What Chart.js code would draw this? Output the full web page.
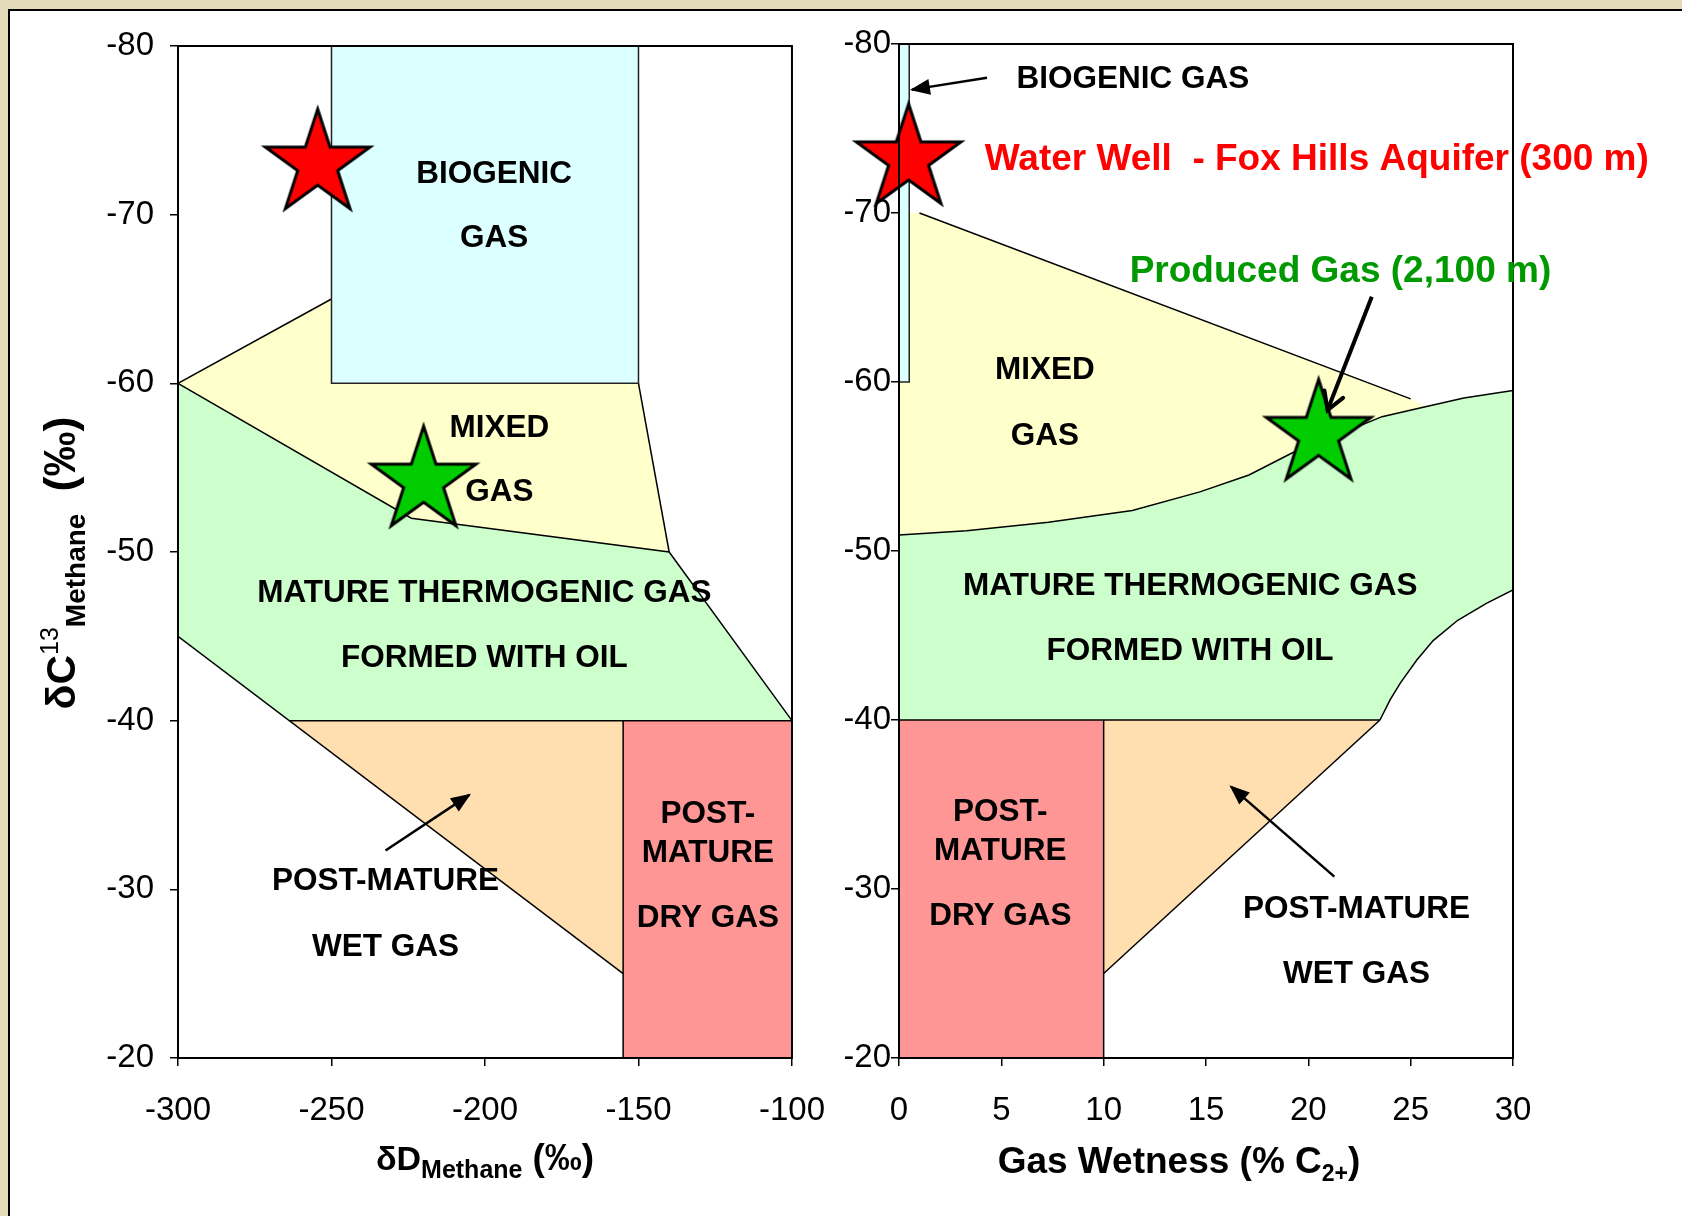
<!DOCTYPE html>
<html>
<head>
<meta charset="utf-8">
<title>Methane source diagrams</title>
<script src="https://cdn.jsdelivr.net/npm/chart.js@4.4.1/dist/chart.umd.min.js"></script>
<style>
  html, body { margin: 0; padding: 0; }
  body { width: 1682px; height: 1216px; background: #e4dbbb; position: relative; overflow: hidden; }
  #panel { position: absolute; left: 8px; top: 9px; width: 1674px; height: 1207px; background: #fff;
           border-left: 2px solid #000; border-top: 2px solid #000; box-sizing: border-box; }
  canvas { position: absolute; top: 0; }
  #left { left: 0; }
  #right { left: 845px; }
</style>
</head>
<body>
<div id="panel"></div>
<canvas id="left" width="850" height="1216"></canvas>
<canvas id="right" width="837" height="1216"></canvas>
<script>
// ---------- δD vs δ13C panel (values in per mil) ----------
const ddRange = [-300, -100];
const c13Range = [-80, -20];
const ddBiogenic = [[-250, -80], [-150, -80], [-150, -60], [-250, -60]];
const ddMixed = [[-300, -60], [-250, -65], [-250, -60], [-150, -60], [-140, -50], [-224, -52]];
const ddMature = [[-300, -60], [-224, -52], [-140, -50], [-100, -40], [-263.7, -40], [-300, -45]];
const ddWet = [[-263.7, -40], [-155, -40], [-155, -25]];
const ddDry = [[-155, -40], [-100, -40], [-100, -20], [-155, -20]];
const ddEdges = [
  [[-300, -60], [-250, -65]],
  [[-300, -60], [-224, -52], [-140, -50], [-100, -40]],
  [[-150, -60], [-140, -50]],
  [[-263.7, -40], [-100, -40]],
  [[-300, -45], [-155, -25]],
  [[-155, -40], [-155, -20]]
];
const ddWaterWell = [[-254.5, -73]];
const ddProducedGas = [[-220, -54.2]];
const ddWetArrow = [[-232.4, -32.3], [-205.1, -35.6]];

// ---------- Gas wetness vs δ13C panel ----------
const wetRange = [0, 30];
const wetBiogenic = [[0, -80], [0.5, -80], [0.5, -60], [0, -60]];
const wetMatureTop = [[0, -50.95], [3.3, -51.2], [7.3, -51.7], [11.4, -52.4], [14.7, -53.5], [17.1, -54.5],
                      [19.2, -55.8], [22.0, -57.15], [23.6, -57.95], [25.4, -58.45], [27.6, -59.05], [30, -59.5]];
const wetMatureEdge = [[30, -47.7], [28.7, -46.9], [27.3, -45.9], [26.1, -44.7], [25.3, -43.55], [24.5, -42.2],
                       [24.0, -41.2], [23.5, -40]];
const wetMature = wetMatureTop.concat(wetMatureEdge, [[0, -40]]);
const wetMixed = [[0, -70], [1, -70], [25, -59], [25.8, -58.5], [23.6, -57.95], [22.0, -57.15], [19.2, -55.8],
                  [17.1, -54.5], [14.7, -53.5], [11.4, -52.4], [7.3, -51.7], [3.3, -51.2], [0, -50.95]];
const wetWet = [[10, -40], [23.5, -40], [10, -25]];
const wetDry = [[0, -40], [10, -40], [10, -20], [0, -20]];
const wetEdges = [
  [[1, -70], [25, -59]],
  wetMatureTop,
  wetMatureEdge,
  [[0, -40], [23.5, -40]],
  [[10, -40], [10, -20]],
  [[10, -25], [23.5, -40]]
];
const wetWaterWell = [[0.47, -73.2]];
const wetProducedGas = [[20.5, -56.9]];
const wetWetArrow = [[21.27, -30.73], [16.22, -36.06]];
const wetBiogenicArrow = [[4.3, -78.0], [0.63, -77.3]];
const wetProducedArrow = [[23.1, -65.05], [20.94, -58.34]];

// ---------- text placed in data units ----------
const ddLabels = [
  { t: 'BIOGENIC', x: -197, y: -72.5 }, { t: 'GAS', x: -197, y: -68.7 },
  { t: 'MIXED', x: -195.3, y: -57.45 }, { t: 'GAS', x: -195.3, y: -53.65 },
  { t: 'MATURE THERMOGENIC GAS', x: -200.2, y: -47.66 }, { t: 'FORMED WITH OIL', x: -200.2, y: -43.83 },
  { t: 'POST-MATURE', x: -232.4, y: -30.6 }, { t: 'WET GAS', x: -232.4, y: -26.7 },
  { t: 'POST-', x: -127.4, y: -34.54 }, { t: 'MATURE', x: -127.4, y: -32.25 }, { t: 'DRY GAS', x: -127.4, y: -28.43 }
];
const wetLabels = [
  { t: 'BIOGENIC GAS', x: 11.43, y: -78.04 },
  { t: 'MIXED', x: 7.13, y: -60.8 }, { t: 'GAS', x: 7.13, y: -56.9 },
  { t: 'MATURE THERMOGENIC GAS', x: 14.23, y: -48.04 }, { t: 'FORMED WITH OIL', x: 14.22, y: -44.21 },
  { t: 'POST-', x: 4.95, y: -34.66 }, { t: 'MATURE', x: 4.95, y: -32.36 }, { t: 'DRY GAS', x: 4.95, y: -28.51 },
  { t: 'POST-MATURE', x: 22.35, y: -28.9 }, { t: 'WET GAS', x: 22.35, y: -25.09 },
  { t: 'Water Well  - Fox Hills Aquifer (300 m)', x: 4.19, y: -73.27, color: '#ff0000', size: 37, align: 'left' },
  { t: 'Produced Gas (2,100 m)', x: 11.27, y: -66.61, color: '#009900', size: 37, align: 'left' }
];

// ---------- styling ----------
const FONT = "'Liberation Sans', Arial, Helvetica, sans-serif";
const C = {
  biogenic: '#dcffff', mixed: '#ffffcc', mature: '#ccffcc', wet: '#ffdfb0', dry: '#ff9696',
  red: '#ff0000', green: '#00cc00'
};

const pts = a => a.map(([x, y]) => ({ x, y }));

function starImage(fill) {
  const R = 55, r = R * 0.382, s = 2 * R + 10;
  const c = document.createElement('canvas');
  c.width = c.height = s;
  const g = c.getContext('2d');
  g.beginPath();
  for (let i = 0; i < 10; i++) {
    const a = -Math.PI / 2 + i * Math.PI / 5;
    const rr = i % 2 ? r : R;
    g.lineTo(s / 2 + rr * Math.cos(a), s / 2 + rr * Math.sin(a));
  }
  g.closePath();
  g.fillStyle = fill; g.fill();
  g.lineWidth = 3; g.strokeStyle = '#000'; g.lineJoin = 'miter'; g.stroke();
  return c;
}
const redStar = starImage(C.red);
const greenStar = starImage(C.green);

const fillSet = (d, color, order) => ({
  data: pts(d), showLine: true, fill: 'shape', backgroundColor: color,
  borderColor: 'rgba(0,0,0,0)', borderWidth: 0, pointRadius: 0, order
});
const edgeSet = (d, color, width) => ({
  data: pts(d), showLine: true, fill: false, borderColor: color || '#000',
  borderWidth: width || 1.5, pointRadius: 0, order: 5
});
const starSet = (d, img) => ({
  data: pts(d), showLine: false, pointStyle: img, pointRadius: 40, clip: false, order: 1
});
const arrowSet = (d, width, head) => ({
  data: pts(d), showLine: true, fill: false, borderColor: '#000', borderWidth: width,
  pointRadius: 0, clip: false, order: 2, arrowHead: head
});

// black frame around the plotting area
const framePlugin = {
  id: 'frame',
  afterDatasetsDraw(chart) {
    const { ctx, chartArea: a } = chart;
    ctx.save();
    ctx.strokeStyle = '#000'; ctx.lineWidth = 2;
    ctx.strokeRect(a.left, a.top, a.right - a.left, a.bottom - a.top);
    ctx.restore();
  }
};

// arrow heads at the last point of arrow datasets
const arrowPlugin = {
  id: 'arrows',
  afterDatasetsDraw(chart) {
    const ctx = chart.ctx;
    chart.data.datasets.forEach((ds, i) => {
      if (!ds.arrowHead) return;
      const m = chart.getDatasetMeta(i).data;
      const p0 = m[m.length - 2], p1 = m[m.length - 1];
      const ang = Math.atan2(p1.y - p0.y, p1.x - p0.x);
      ctx.save();
      ctx.translate(p1.x, p1.y); ctx.rotate(ang);
      ctx.fillStyle = '#000'; ctx.strokeStyle = '#000';
      if (ds.arrowHead === 'open') {
        ctx.lineWidth = 4; ctx.lineCap = 'round';
        ctx.beginPath();
        ctx.moveTo(-17, -10); ctx.lineTo(0, 0); ctx.lineTo(-17, 10);
        ctx.stroke();
      } else {
        ctx.beginPath();
        ctx.moveTo(2, 0); ctx.lineTo(-18, -8); ctx.lineTo(-18, 8);
        ctx.closePath(); ctx.fill();
      }
      ctx.restore();
    });
  }
};

function labelPlugin(labels) {
  return {
    id: 'regionLabels',
    afterDraw(chart) {
      const { ctx, scales } = chart;
      ctx.save();
      ctx.textBaseline = 'middle';
      labels.forEach(l => {
        ctx.font = `bold ${l.size || 31.5}px ${FONT}`;
        ctx.fillStyle = l.color || '#000';
        ctx.textAlign = l.align || 'center';
        ctx.fillText(l.t, scales.x.getPixelForValue(l.x), scales.y.getPixelForValue(l.y) + 2);
      });
      ctx.restore();
    }
  };
}

// axis titles with sub/superscripts, written piece by piece along a baseline
function drawRuns(ctx, runs, x0, y0) {
  let x = x0;
  runs.forEach(r => {
    ctx.font = `${r.w || 'bold'} ${r.s}px ${FONT}`;
    ctx.fillText(r.t, x, y0 + (r.dy || 0));
    x += ctx.measureText(r.t).width + (r.gap || 0);
  });
  return x - x0;
}
function runsWidth(ctx, runs) {
  let w = 0;
  runs.forEach(r => { ctx.font = `${r.w || 'bold'} ${r.s}px ${FONT}`; w += ctx.measureText(r.t).width + (r.gap || 0); });
  return w;
}
function titlePlugin(xRuns, xCenter, xBase, yRuns, yCenter, yBase) {
  return {
    id: 'axisTitles',
    afterDraw(chart) {
      const ctx = chart.ctx;
      ctx.save();
      ctx.fillStyle = '#000'; ctx.textAlign = 'left'; ctx.textBaseline = 'alphabetic';
      const w = runsWidth(ctx, xRuns);
      drawRuns(ctx, xRuns, xCenter - w / 2, xBase);
      if (yRuns) {
        const h = runsWidth(ctx, yRuns);
        ctx.translate(yBase, yCenter);
        ctx.rotate(-Math.PI / 2);
        drawRuns(ctx, yRuns, -h / 2, 0);
      }
      ctx.restore();
    }
  };
}

function scaleOpts(range, step, reverse, pad, fit) {
  return {
    type: 'linear', min: range[0], max: range[1], reverse,
    ticks: { stepSize: step, font: { family: FONT, size: 33 }, color: '#000', padding: pad, maxRotation: 0 },
    grid: { drawOnChartArea: false, drawTicks: true, tickLength: 8, color: '#000', lineWidth: 1.5 },
    border: { color: '#000', width: 2 },
    afterFit: fit
  };
}

function baseOptions(padding, xStep, xRange, yPad, yWidth) {
  return {
    responsive: false, animation: false, events: [],
    layout: { padding },
    plugins: { legend: { display: false }, tooltip: { enabled: false } },
    scales: {
      x: scaleOpts(xRange, xStep, false, 25, s => { s.height = 158; }),
      y: scaleOpts(c13Range, 10, true, yPad, s => { s.width = yWidth; })
    }
  };
}

// left panel
new Chart(document.getElementById('left'), {
  type: 'scatter',
  data: {
    datasets: [
      fillSet(ddBiogenic, C.biogenic, 20),
      fillSet(ddMixed, C.mixed, 20),
      fillSet(ddMature, C.mature, 20),
      fillSet(ddWet, C.wet, 20),
      fillSet(ddDry, C.dry, 20),
      edgeSet(ddBiogenic.concat([ddBiogenic[0]]), '#222', 1.5),
      ...ddEdges.map(e => edgeSet(e)),
      arrowSet(ddWetArrow, 2.5, 'solid'),
      starSet(ddWaterWell, redStar),
      starSet(ddProducedGas, greenStar)
    ]
  },
  options: baseOptions({ left: 0, right: 10, top: 46, bottom: 0 }, 50, ddRange, 16, 178),
  plugins: [
    framePlugin, arrowPlugin, labelPlugin(ddLabels),
    titlePlugin(
      [{ t: 'δD', s: 34 }, { t: 'Methane', s: 25, dy: 8, gap: 10 }, { t: '(‰)', s: 37 }], 485, 1170,
      [{ t: 'δC', s: 41 }, { t: '13', s: 25, w: 'normal', dy: -17 }, { t: 'Methane', s: 28, dy: 10, gap: 22 }, { t: '(‰)', s: 45 }],
      563, 75)
  ]
});

// right panel
new Chart(document.getElementById('right'), {
  type: 'scatter',
  data: {
    datasets: [
      fillSet(wetBiogenic, C.biogenic, 20),
      fillSet(wetMixed, C.mixed, 21),
      fillSet(wetMature, C.mature, 20),
      fillSet(wetWet, C.wet, 20),
      fillSet(wetDry, C.dry, 20),
      edgeSet(wetBiogenic.concat([wetBiogenic[0]]), '#222', 1.5),
      ...wetEdges.map(e => edgeSet(e)),
      arrowSet(wetWetArrow, 2.5, 'solid'),
      arrowSet(wetBiogenicArrow, 2.5, 'solid'),
      arrowSet(wetProducedArrow, 4, 'open'),
      starSet(wetWaterWell, redStar),
      starSet(wetProducedGas, greenStar)
    ]
  },
  options: baseOptions({ left: 0, right: 169, top: 44, bottom: 0 }, 5, wetRange, 0, 54),
  plugins: [
    framePlugin, arrowPlugin, labelPlugin(wetLabels),
    titlePlugin(
      [{ t: 'Gas Wetness (% C', s: 37 }, { t: '2+', s: 23, dy: 8 }, { t: ')', s: 37 }], 334, 1173,
      null, 0, 0)
  ]
});
</script>
</body>
</html>
